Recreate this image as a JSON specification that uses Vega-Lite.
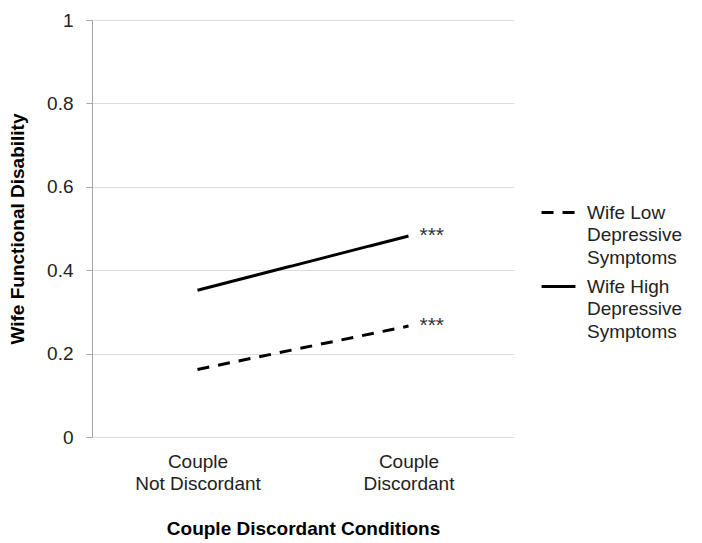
{
  "$schema": "https://vega.github.io/schema/vega-lite/v6.json",
  "width": 422,
  "height": 417,
  "autosize": {"type": "none"},
  "padding": {"left": 92, "top": 20, "right": 188, "bottom": 106},
  "background": "white",
  "config": {
    "font": "Liberation Sans",
    "view": {"stroke": null},
    "style": {"guide-label": {"lineHeight": 22.5}}
  },
  "data": {
    "values": [
      {"condition": "Couple Not Discordant", "group": "Wife Low Depressive Symptoms", "value": 0.162, "sig": ""},
      {"condition": "Couple Discordant", "group": "Wife Low Depressive Symptoms", "value": 0.266, "sig": "***"},
      {"condition": "Couple Not Discordant", "group": "Wife High Depressive Symptoms", "value": 0.352, "sig": ""},
      {"condition": "Couple Discordant", "group": "Wife High Depressive Symptoms", "value": 0.482, "sig": "***"}
    ]
  },
  "encoding": {
    "x": {
      "field": "condition",
      "type": "nominal",
      "sort": ["Couple Not Discordant", "Couple Discordant"],
      "scale": {"type": "point", "padding": 0.5},
      "axis": {
        "title": "Couple Discordant Conditions",
        "titleFontSize": 19,
        "titleFontWeight": "bold",
        "titleColor": "#000",
        "titlePadding": 26,
        "labelAngle": 0,
        "labelFontSize": 19,
        "labelColor": "#222",
        "labelPadding": 15,
        "labelLineHeight": 22,
        "labelExpr": "datum.value == 'Couple Not Discordant' ? ['Couple', 'Not Discordant'] : ['Couple', 'Discordant']",
        "domain": false,
        "ticks": false,
        "grid": false
      }
    },
    "y": {
      "field": "value",
      "type": "quantitative",
      "scale": {"domain": [0, 1]},
      "axis": {
        "title": "Wife Functional Disability",
        "titleFontSize": 19,
        "titleFontWeight": "bold",
        "titleColor": "#000",
        "titlePadding": 19,
        "values": [0, 0.2, 0.4, 0.6, 0.8, 1],
        "format": "~g",
        "labelFontSize": 19,
        "labelColor": "#222",
        "labelPadding": 13,
        "tickSize": 6,
        "tickColor": "#a6a6a6",
        "domainColor": "#a6a6a6",
        "gridColor": "#dcdcdc",
        "grid": true
      }
    }
  },
  "layer": [
    {
      "mark": {"type": "line", "strokeWidth": 3, "color": "#000"},
      "encoding": {
        "strokeDash": {
          "field": "group",
          "type": "nominal",
          "sort": ["Wife Low Depressive Symptoms", "Wife High Depressive Symptoms"],
          "scale": {
            "domain": ["Wife Low Depressive Symptoms", "Wife High Depressive Symptoms"],
            "range": [[12, 9], [1, 0]]
          },
          "legend": {
            "title": null,
            "orient": "none",
            "legendX": 448,
            "legendY": 174,
            "symbolType": "stroke",
            "symbolSize": 1150,
            "symbolStrokeWidth": 3,
            "symbolStrokeColor": "#000",
            "labelFontSize": 19,
            "labelColor": "#222",
            "labelOffset": 10,
            "rowPadding": 0,
            "labelExpr": "datum.label == 'Wife Low Depressive Symptoms' ? ['Wife Low', 'Depressive', 'Symptoms'] : ['Wife High', 'Depressive', 'Symptoms']"
          }
        }
      }
    },
    {
      "mark": {"type": "text", "align": "left", "dx": 11, "dy": 0, "fontSize": 21, "color": "#333"},
      "encoding": {"text": {"field": "sig"}}
    }
  ]
}
